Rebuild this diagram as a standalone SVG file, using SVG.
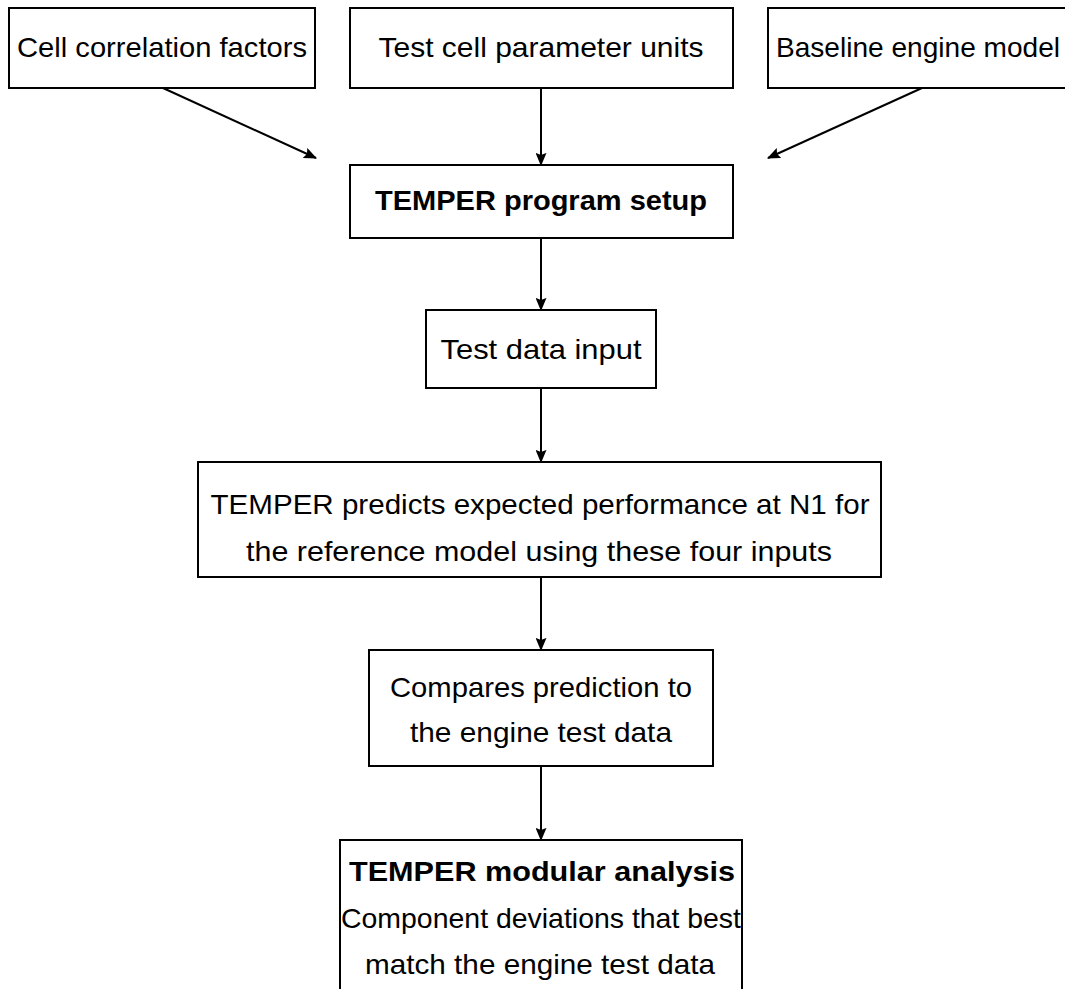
<svg xmlns="http://www.w3.org/2000/svg" width="1065" height="989" viewBox="0 0 1065 989">
<defs>
<style>
.box{fill:#fff;stroke:#000;stroke-width:2}
.t{font-family:"Liberation Sans",Arial,sans-serif;font-size:28px;fill:#000;text-anchor:middle}
.b{font-weight:bold}
.c{stroke:#000;stroke-width:2;fill:none;marker-end:url(#ah)}
</style>
<marker id="ah" viewBox="0 0 12 10" refX="11" refY="5" markerWidth="14" markerHeight="11" markerUnits="userSpaceOnUse" orient="auto">
<path d="M0,0 L12,5 L0,10 L2,5 Z" fill="#000"/>
</marker>
</defs>
<rect width="1065" height="989" fill="#fff"/>
<g id="connectors">
<line class="c" x1="163" y1="88" x2="316" y2="158"/>
<line class="c" x1="541" y1="88" x2="541" y2="165"/>
<line class="c" x1="922" y1="88" x2="768" y2="158"/>
<line class="c" x1="541" y1="238" x2="541" y2="310"/>
<line class="c" x1="541" y1="388" x2="541" y2="462"/>
<line class="c" x1="541" y1="577" x2="541" y2="650"/>
<line class="c" x1="541" y1="766" x2="541" y2="840"/>
</g>
<g id="n1">
<rect class="box" x="9" y="8" width="306" height="80"/>
<text class="t" x="162" y="57" textLength="290" lengthAdjust="spacingAndGlyphs">Cell correlation factors</text>
</g>
<g id="n2">
<rect class="box" x="350" y="8" width="383" height="80"/>
<text class="t" x="541" y="57" textLength="325" lengthAdjust="spacingAndGlyphs">Test cell parameter units</text>
</g>
<g id="n3">
<rect class="box" x="768" y="8" width="310" height="80"/>
<text class="t" x="918" y="57" textLength="284" lengthAdjust="spacingAndGlyphs">Baseline engine model</text>
</g>
<g id="n4">
<rect class="box" x="350" y="165" width="383" height="73"/>
<text class="t b" x="541" y="210" textLength="332" lengthAdjust="spacingAndGlyphs">TEMPER program setup</text>
</g>
<g id="n5">
<rect class="box" x="426" y="310" width="230" height="78"/>
<text class="t" x="541" y="359" textLength="201" lengthAdjust="spacingAndGlyphs">Test data input</text>
</g>
<g id="n6">
<rect class="box" x="198" y="462" width="683" height="115"/>
<text class="t" x="540" y="514" textLength="659" lengthAdjust="spacingAndGlyphs">TEMPER predicts expected performance at N1 for</text>
<text class="t" x="539" y="561" textLength="586" lengthAdjust="spacingAndGlyphs">the reference model using these four inputs</text>
</g>
<g id="n7">
<rect class="box" x="369" y="650" width="344" height="116"/>
<text class="t" x="541" y="697" textLength="302" lengthAdjust="spacingAndGlyphs">Compares prediction to</text>
<text class="t" x="541" y="742" textLength="262" lengthAdjust="spacingAndGlyphs">the engine test data</text>
</g>
<g id="n8">
<rect class="box" x="340" y="840" width="402" height="160"/>
<text class="t b" x="542" y="881" textLength="386" lengthAdjust="spacingAndGlyphs">TEMPER modular analysis</text>
<text class="t" x="541" y="928" textLength="400" lengthAdjust="spacingAndGlyphs">Component deviations that best</text>
<text class="t" x="540" y="974" textLength="350" lengthAdjust="spacingAndGlyphs">match the engine test data</text>
</g>
</svg>
